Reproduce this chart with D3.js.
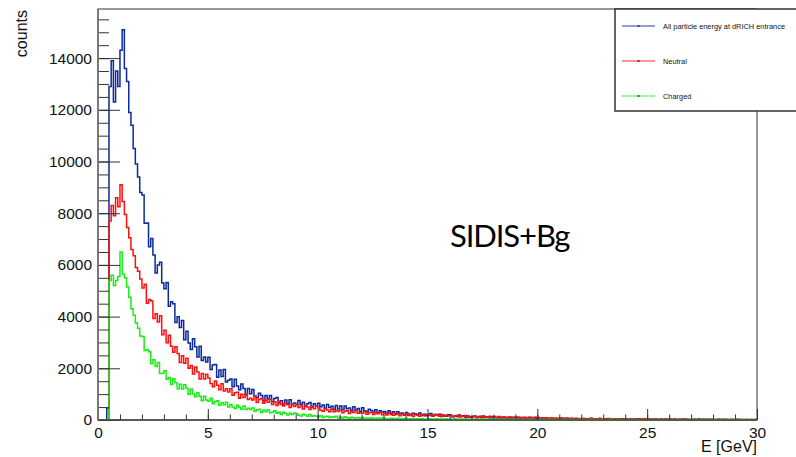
<!DOCTYPE html>
<html>
<head>
<meta charset="utf-8">
<script src="https://cdn.jsdelivr.net/npm/d3@7"></script>
<style>
  body { margin: 0; background: #fff; }
  svg { display: block; font-family: "Liberation Sans", Arial, sans-serif; }
</style>
</head>
<body>
<svg id="chart" width="796" height="457"></svg>
<script>
// histogram binning (GeV)
const binStart = 0;
const binWidth = 0.1;

// counts per 0.1 GeV bin, 0 -> 30 GeV (one row = 1 GeV)
const allEnergy = [
  0,0,0,0,450,12900,13900,12300,13500,12900,
  14300,15100,13600,13100,11900,11400,10500,9900,9400,8800,
  8700,7610,7620,6700,7020,6380,5690,6000,6100,5300,
  5080,5320,4400,4570,4500,3770,3990,3580,3850,3100,
  3430,2980,2730,3140,2830,2440,2850,2300,2440,2240,
  2425,1950,2130,2150,1650,1930,1685,1950,1470,1535,
  1590,1290,1580,1315,1175,1395,1218,970,1218,1016,
  1180,930,858,1038,952,740,944,812,946,702,
  834,869,662,741,605,777,641,780,589,662,
  590,750,610,690,530,630,680,495,630,535,
  652,511,577,445,601,487,535,408,560,424,
  538,400,542,436,466,376,510,380,442,328,
  470,362,317,419,367,308,396,260,355,296,
  328,257,355,260,316,215,319,248,274,203,
  295,230,190,265,240,190,270,190,225,165,
  197,250,164,217,186,221,135,188,143,205,
  198,129,168,135,190,133,164,100,151,106,
  128,158,90,138,97,150,98,120,77,126,
  135,84,109,71,117,88,68,117,78,103,
  76,110,58,95,85,60,107,70,94,51,
  97,63,76,44,82,47,88,56,69,37,
  48,76,35,63,38,70,27,52,62,35,
  57,27,52,40,64,29,44,22,57,32,
  26,49,55,27,42,20,49,31,53,26,
  51,24,39,20,43,30,45,16,37,23,
  21,43,15,36,30,16,43,23,36,14,
  36,20,40,14,28,20,35,12,31,16,
  13,31,21,35,15,27,11,31,18,27,
  24,10,28,16,29,13,22,11,29,13,
  11,28,12,23,8,20,13,23,6,17
];

const neutral = [
  0,0,0,0,0,7700,8300,7900,8600,8250,
  9100,8450,7950,7450,7050,6600,6350,5900,5750,5450,
  5110,5250,4520,4660,4600,3930,4110,3790,4030,3300,
  3470,2990,3280,2850,2620,2830,2570,2220,2490,2200,
  2390,2006,2107,1780,2052,1858,1589,1795,1583,1770,
  1626,1416,1286,1508,1346,1168,1400,1120,1208,1088,
  1207,956,1056,1078,840,992,871,1020,792,837,
  775,909,680,792,827,647,764,683,800,598,
  705,564,720,597,537,662,589,480,614,523,
  620,482,544,430,564,506,408,510,436,530,
  462,382,337,446,387,321,430,315,366,326,
  389,282,337,356,255,334,287,360,259,284,
  257,330,220,281,304,216,277,239,300,201,
  263,189,280,216,187,258,219,160,236,187,
  245,170,208,146,224,194,142,202,163,218,
  214,171,148,213,182,147,212,149,178,155,
  192,129,161,172,113,159,132,174,115,130,
  117,156,97,130,143,95,129,109,142,89,
  122,81,132,96,80,120,99,66,109,82,
  113,72,94,60,104,88,60,94,73,104,
  90,66,53,89,71,52,87,52,68,55,
  75,40,59,66,33,60,45,70,37,46,
  38,62,27,48,56,28,48,36,57,25,
  45,23,52,33,24,48,36,18,43,28,
  47,22,35,16,42,33,16,37,25,44,
  36,23,16,38,28,18,40,20,30,23,
  36,15,27,32,13,29,20,35,16,22,
  16,32,11,24,29,13,25,18,31,12,
  24,10,29,17,11,26,18,7,23,14,
  25,11,19,6,22,17,6,19,11,23
];

const charged = [
  0,0,0,0,0,5400,5600,5200,5400,5550,
  6500,5650,5500,5150,4750,4300,4050,3750,3550,3250,
  3230,2690,2720,2640,2180,2330,2070,2220,1800,1810,
  1910,1574,1648,1370,1598,1442,1206,1380,1202,1360,
  1225,993,1200,1004,899,1054,923,740,918,771,
  730,840,625,720,745,570,670,590,690,500,
  598,503,448,569,498,419,540,405,454,404,
  464,343,398,414,295,376,320,395,281,304,
  355,257,297,215,304,261,192,263,212,275,
  239,187,158,227,189,145,215,141,170,141,
  122,168,97,135,148,92,130,105,143,80,
  115,70,124,85,67,110,87,52,98,69,
  101,59,80,45,88,71,42,75,53,83,
  69,48,37,70,55,38,71,40,55,44,
  63,32,49,55,25,49,36,58,28,36,
  29,51,20,39,46,22,40,31,49,22,
  39,19,45,28,20,41,30,15,36,24,
  39,20,30,14,35,27,13,30,19,35,
  29,18,11,30,21,12,30,14,21,16,
  26,9,19,22,6,19,13,25,9,14,
  10,21,6,15,19,7,15,11,20,6,
  15,6,19,11,7,17,12,4,15,9,
  18,7,14,4,16,12,4,13,8,17,
  14,8,5,15,10,5,15,6,11,8,
  14,4,10,12,3,11,6,14,4,8,
  6,12,3,9,11,4,9,7,12,3,
  10,3,12,7,3,10,7,1,9,5,
  11,3,7,1,10,7,1,8,4,10,
  7,3,1,8,5,2,8,2,5,4,
  8,1,5,6,0,5,2,7,1,3
];

const seriesNames = ["All particle energy at dRICH entrance", "Neutral", "Charged"];
const seriesColors = ["#0b2a9e", "#ff1010", "#16ee16"];

const xMajorTicks = [0, 5, 10, 15, 20, 25, 30];
const xMinorTicks = d3.range(0, 31, 1);
const yMajorTicks = [0, 2000, 4000, 6000, 8000, 10000, 12000, 14000];
const yMinorTicks = d3.range(0, 15900, 500);

const xTitle = "E [GeV]";
const yTitle = "counts";
const annotation = "SIDIS+Bg";

const svg = d3.select("#chart");
const frame = { left: 98, right: 757, top: 9, bottom: 420 };

const x = d3.scaleLinear().domain([0, 30]).range([frame.left, frame.right]);
const y = d3.scaleLinear().domain([0, 15900]).range([frame.bottom, frame.top]);

// frame
svg.append("rect")
  .attr("x", frame.left).attr("y", frame.top)
  .attr("width", frame.right - frame.left)
  .attr("height", frame.bottom - frame.top)
  .attr("fill", "none")
  .attr("stroke", "#333")
  .attr("stroke-width", 1);

// histograms as step lines
const stepLine = d3.line()
  .x(d => x(d[0]))
  .y(d => y(d[1]))
  .curve(d3.curveStepAfter);

[allEnergy, neutral, charged].forEach((vals, k) => {
  const pts = vals.map((v, i) => [binStart + i * binWidth, v]);
  pts.push([binStart + vals.length * binWidth, vals[vals.length - 1]]);
  svg.append("path")
    .datum(pts)
    .attr("fill", "none")
    .attr("stroke", seriesColors[k])
    .attr("stroke-width", 1.5)
    .attr("stroke-linejoin", "miter")
    .attr("d", stepLine);
});

// y axis ticks (inside)
const yMinor = svg.append("g")
  .attr("transform", `translate(${frame.left},0)`)
  .call(d3.axisRight(y).tickValues(yMinorTicks).tickSize(11).tickFormat(""));
const yMajor = svg.append("g")
  .attr("transform", `translate(${frame.left},0)`)
  .call(d3.axisRight(y).tickValues(yMajorTicks).tickSize(22).tickFormat(""));
const yLabels = svg.append("g")
  .attr("transform", `translate(${frame.left},0)`)
  .call(d3.axisLeft(y).tickValues(yMajorTicks).tickSize(0).tickPadding(6).tickFormat(d3.format("d")));

// x axis ticks (inside)
const xMinor = svg.append("g")
  .attr("transform", `translate(0,${frame.bottom})`)
  .call(d3.axisTop(x).tickValues(xMinorTicks).tickSize(5.5).tickFormat(""));
const xMajor = svg.append("g")
  .attr("transform", `translate(0,${frame.bottom})`)
  .call(d3.axisTop(x).tickValues(xMajorTicks).tickSize(11).tickFormat(""));
const xLabels = svg.append("g")
  .attr("transform", `translate(0,${frame.bottom})`)
  .call(d3.axisBottom(x).tickValues(xMajorTicks).tickSize(0).tickPadding(7).tickFormat(d3.format("d")));

[yMinor, yMajor, xMinor, xMajor].forEach(g => {
  g.select(".domain").remove();
  g.selectAll(".tick line").attr("stroke", "#333").attr("stroke-width", 1);
});
[yLabels, xLabels].forEach(g => {
  g.select(".domain").remove();
  g.selectAll(".tick text")
    .attr("fill", "#111")
    .style("font-family", "'Liberation Sans', Arial, sans-serif")
    .style("font-size", "15.5px");
});

// axis lines
svg.append("line")
  .attr("x1", frame.left).attr("x2", frame.left)
  .attr("y1", frame.top).attr("y2", frame.bottom)
  .attr("stroke", "#777").attr("stroke-width", 1.8);
svg.append("line")
  .attr("x1", frame.left).attr("x2", frame.right)
  .attr("y1", frame.bottom).attr("y2", frame.bottom)
  .attr("stroke", "#444").attr("stroke-width", 1.3);

// titles
svg.append("text")
  .attr("transform", "translate(26.5,10) rotate(-90)")
  .attr("text-anchor", "end")
  .attr("font-size", 16)
  .attr("fill", "#111")
  .text(yTitle);
svg.append("text")
  .attr("x", frame.right).attr("y", 452)
  .attr("text-anchor", "end")
  .attr("font-size", 16)
  .attr("fill", "#111")
  .text(xTitle);

svg.append("text")
  .attr("x", 450).attr("y", 247)
  .style("font-family", "Lato, 'Open Sans', sans-serif")
  .style("letter-spacing", "-1.1px")
  .attr("font-size", 31)
  .attr("fill", "#000")
  .text(annotation);

// legend
const legend = svg.append("g");
legend.append("rect")
  .attr("x", 615).attr("y", frame.top)
  .attr("width", 200).attr("height", 102)
  .attr("fill", "#fff")
  .attr("stroke", "#333")
  .attr("stroke-width", 1.5);
const legendY = [26, 61, 96];
seriesNames.forEach((name, k) => {
  legend.append("line")
    .attr("x1", 622).attr("x2", 655)
    .attr("y1", legendY[k]).attr("y2", legendY[k])
    .attr("stroke", seriesColors[k])
    .attr("stroke-opacity", 0.6)
    .attr("stroke-width", 1.3);
  legend.append("rect")
    .attr("x", 637.5).attr("y", legendY[k] - 0.6)
    .attr("width", 2).attr("height", 1.2)
    .attr("fill", "#000");
  legend.append("text")
    .attr("x", 663).attr("y", legendY[k])
    .attr("dy", "0.35em")
    .attr("font-size", 7.4)
    .attr("fill", "#111")
    .text(name);
});
</script>
</body>
</html>
